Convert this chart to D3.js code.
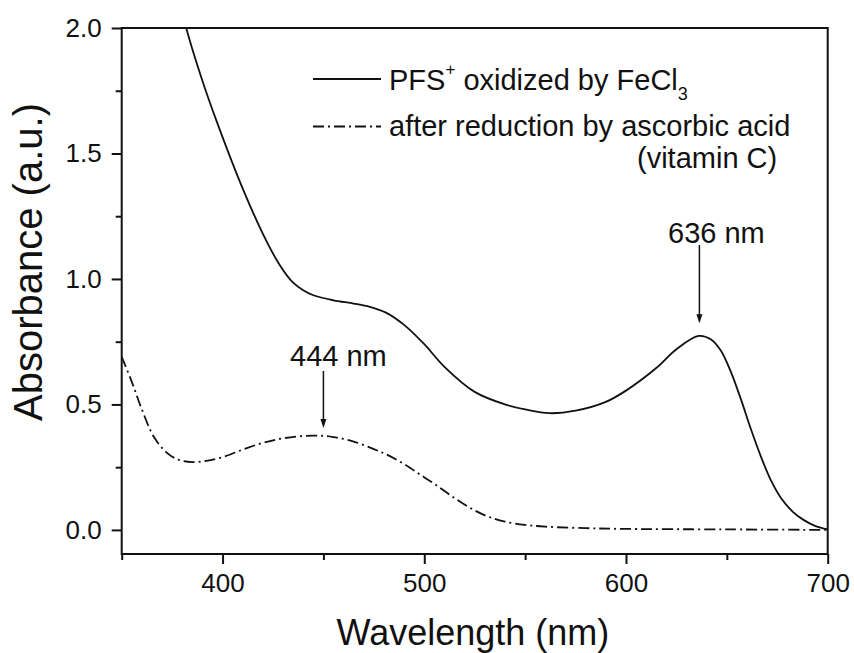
<!DOCTYPE html>
<html><head><meta charset="utf-8">
<script src="https://cdn.jsdelivr.net/npm/d3@7"></script>
<style>body{margin:0;background:#fff}svg{display:block}text{font-family:"Liberation Sans",Arial,sans-serif;fill:#111}</style>
</head><body>
<script>
// Data (wavelength nm, absorbance a.u.)
const oxidizedWl  = [380,382,390,397,410,420,428,435,440,445,455,465,473,481,490,500,510,525,540,550,562,575,590,600,615,625,636,642,647,652,657,662,667,672,677,683,688,694,700];
const oxidizedAbs = [2.07,2.0,1.79,1.63,1.36,1.18,1.06,0.985,0.955,0.935,0.915,0.902,0.889,0.866,0.817,0.74,0.65,0.55,0.50,0.48,0.465,0.475,0.51,0.555,0.645,0.72,0.773,0.76,0.715,0.63,0.52,0.40,0.29,0.195,0.125,0.07,0.04,0.015,0.002];
const reducedWl  = [350,355,360,366,372,378,385,392,400,410,420,430,445,455,465,475,482,490,498,506,515,524,532,540,550,560,580,600,650,700];
const reducedAbs = [0.69,0.59,0.48,0.37,0.31,0.28,0.27,0.275,0.29,0.32,0.347,0.365,0.376,0.37,0.352,0.322,0.298,0.262,0.22,0.178,0.127,0.082,0.052,0.033,0.02,0.013,0.007,0.004,0.002,0.0];
const xMajorTicks = [400,500,600,700];
const xMinorTicks = [350,450,550,650];
const yMajorTicks = [0.0,0.5,1.0,1.5,2.0];
const yMinorTicks = [0.25,0.75,1.25,1.75];
const legendLabels = ["after reduction by ascorbic acid","(vitamin C)"];
const peakLabels = [{wl:450, tip:0.406, top:371, text:"444 nm", tx:290, ty:366},
                    {wl:636.4, tip:0.823, top:245, text:"636 nm", tx:668, ty:243}];

const W=854,H=653;
const m={l:121.7,r:827.7,t:28,b:554};
const x=d3.scaleLinear().domain([350,700]).range([m.l,m.r]);
const y=d3.scaleLinear().domain([-0.096,2.0]).range([m.b,m.t]);

const svg=d3.select("body").append("svg").attr("width",W).attr("height",H);
svg.append("clipPath").attr("id","clip").append("rect")
  .attr("x",m.l).attr("y",m.t).attr("width",m.r-m.l).attr("height",m.b-m.t);

const line=d3.line().curve(d3.curveCatmullRom.alpha(0.5)).x(d=>x(d[0])).y(d=>y(d[1]));
const ox=oxidizedWl.map((w,i)=>[w,oxidizedAbs[i]]);
const rd=reducedWl.map((w,i)=>[w,reducedAbs[i]]);
const g=svg.append("g").attr("clip-path","url(#clip)");
g.append("path").attr("d",line(ox)).attr("fill","none").attr("stroke","#111").attr("stroke-width",1.8);
g.append("path").attr("d",line(rd)).attr("fill","none").attr("stroke","#111").attr("stroke-width",1.8)
  .attr("stroke-dasharray","11,4,2,4");

// axes
const fs=26;
const xAx=svg.append("g").attr("transform",`translate(0,${m.b})`)
  .call(d3.axisBottom(x).tickValues(xMajorTicks).tickSize(10).tickPadding(10).tickFormat(d3.format("d")));
const xAxMin=svg.append("g").attr("transform",`translate(0,${m.b})`)
  .call(d3.axisBottom(x).tickValues(xMinorTicks).tickSize(6).tickFormat(""));
const yAx=svg.append("g").attr("transform",`translate(${m.l},0)`)
  .call(d3.axisLeft(y).tickValues(yMajorTicks).tickSize(10).tickPadding(10).tickFormat(d3.format(".1f")));
const yAxMin=svg.append("g").attr("transform",`translate(${m.l},0)`)
  .call(d3.axisLeft(y).tickValues(yMinorTicks).tickSize(6).tickFormat(""));
[xAx,xAxMin,yAx,yAxMin].forEach(a=>{
  a.select(".domain").remove();
  a.selectAll("line").attr("stroke","#111").attr("stroke-width",2);
  a.selectAll("text").attr("font-size",fs).attr("fill","#111").attr("font-family","Liberation Sans, Arial, sans-serif");
});
// frame
svg.append("rect").attr("x",m.l).attr("y",m.t).attr("width",m.r-m.l).attr("height",m.b-m.t)
  .attr("fill","none").attr("stroke","#111").attr("stroke-width",2);

// axis titles
svg.append("text").attr("x",336.5).attr("y",645).attr("font-size",36).text("Wavelength (nm)");
svg.append("text").attr("transform","translate(42,421) rotate(-90)").attr("font-size",40).text("Absorbance (a.u.)");

// legend
const lf=29;
svg.append("line").attr("x1",313).attr("x2",381).attr("y1",79).attr("y2",79).attr("stroke","#111").attr("stroke-width",1.8);
svg.append("line").attr("x1",313).attr("x2",381).attr("y1",126.5).attr("y2",126.5).attr("stroke","#111").attr("stroke-width",1.8).attr("stroke-dasharray","11,4,2,4");
const t1=svg.append("text").attr("x",389).attr("y",89.5).attr("font-size",lf);
t1.append("tspan").text("PFS");
t1.append("tspan").attr("font-size",17).attr("dy",-15).text("+");
t1.append("tspan").attr("dy",15).text(" oxidized by FeCl");
t1.append("tspan").attr("font-size",18).attr("dy",10).text("3");
svg.append("text").attr("x",389).attr("y",136).attr("font-size",lf).text(legendLabels[0]);
svg.append("text").attr("x",637).attr("y",168).attr("font-size",lf).text(legendLabels[1]);

// peak annotations
peakLabels.forEach(p=>{
  const px=x(p.wl), tipY=y(p.tip);
  svg.append("line").attr("x1",px).attr("x2",px).attr("y1",p.top).attr("y2",tipY-6).attr("stroke","#111").attr("stroke-width",1.5);
  svg.append("path").attr("d",`M${px-3},${tipY-9} L${px+3},${tipY-9} L${px},${tipY} Z`).attr("fill","#111");
  svg.append("text").attr("x",p.tx).attr("y",p.ty).attr("font-size",29).text(p.text);
});
</script>
</body></html>
